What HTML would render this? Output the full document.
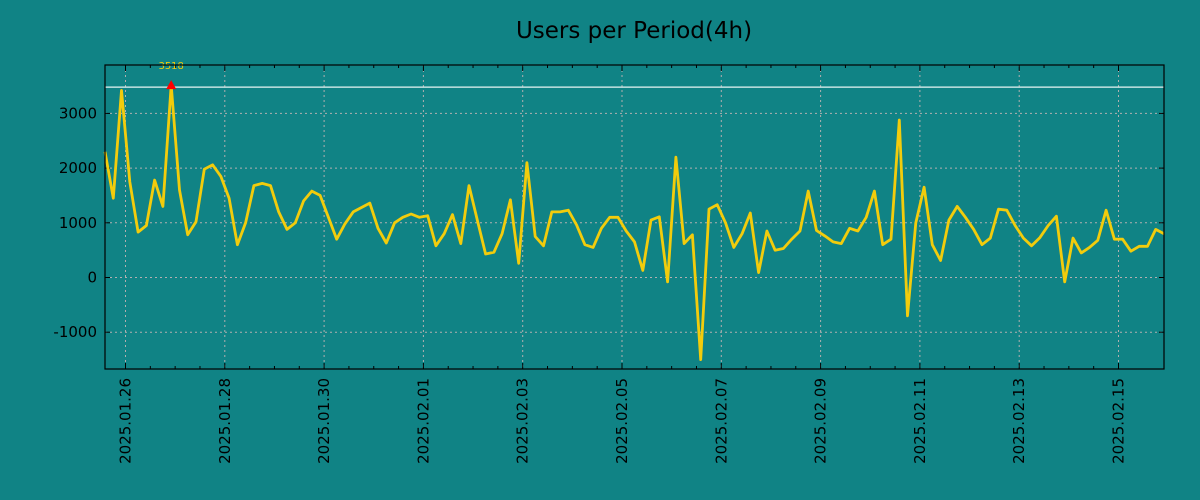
<!DOCTYPE html>
<html><head><meta charset="utf-8"><style>
html,body{margin:0;padding:0;background:#108385;}
svg{display:block;font-family:"Liberation Sans","DejaVu Sans",sans-serif;}
</style></head><body>
<svg id="chart" width="1200" height="500" viewBox="0 0 1200 500">
<rect x="0" y="0" width="1200" height="500" fill="#108385"/>
<text x="634" y="38" text-anchor="middle" font-size="23" fill="#000" font-family="DejaVu Sans, sans-serif">Users per Period(4h)</text>
<g id="grid"></g>
<g id="axes"></g>
<g id="series"></g>
<rect x="105" y="65" width="1059" height="304" fill="none" stroke="#000" stroke-width="1.2"/>
</svg>
<script>
const values = [2300,1450,3420,1750,830,950,1780,1300,3518,1600,780,1020,1980,2060,1850,1450,600,1000,1680,1720,1680,1200,880,1000,1400,1580,1500,1100,700,980,1200,1280,1360,900,630,1000,1100,1160,1100,1130,580,800,1150,620,1680,1050,430,460,800,1420,260,2100,750,580,1200,1200,1230,960,600,550,900,1100,1100,850,650,130,1050,1110,-80,2200,620,780,-1500,1250,1330,1000,550,800,1180,90,850,500,530,700,850,1580,860,760,650,620,900,850,1100,1580,600,700,2880,-700,1000,1650,600,310,1050,1300,1100,880,600,720,1250,1230,950,720,580,730,950,1120,-80,720,450,550,680,1230,700,700,480,570,570,880,800];
const yTicks = [-1000,0,1000,2000,3000];
const xTickLabels = ["2025.01.26","2025.01.28","2025.01.30","2025.02.01","2025.02.03","2025.02.05","2025.02.07","2025.02.09","2025.02.11","2025.02.13","2025.02.15"];
const refLine = [3480];

const NS="http://www.w3.org/2000/svg";
const L=105,R=1164,T=65,B=369;
const yScale=v=>277.5-v*0.0547;
const xScale=i=>L+i*(R-L)/(values.length-1);
// day axis: first label day (index 0 of labels) at x=125.5, each day 49.65 px
const dayX=d=>125.5+d*49.65;
function mk(tag,attrs,parent){const e=document.createElementNS(NS,tag);for(const k in attrs)e.setAttribute(k,attrs[k]);parent.appendChild(e);return e;}
const grid=document.getElementById('grid'),axes=document.getElementById('axes'),series=document.getElementById('series');

yTicks.forEach(v=>{
  const y=yScale(v);
  const g=mk('line',{x1:L,x2:R,y1:y,y2:y,stroke:'#b0b0b0','stroke-dasharray':'2,3','stroke-width':1},grid);
  
  
  const t1=mk('line',{x1:L,x2:L+5,y1:y,y2:y,stroke:'#000'},axes);
  
  
  const t2=mk('line',{x1:R-5,x2:R,y1:y,y2:y,stroke:'#000'},axes);
  
  
  const tx=mk('text',{x:97,y:y+5,'text-anchor':'end','font-size':15,fill:'#000','font-family':'DejaVu Sans, sans-serif'},axes);
  tx.textContent=v;
  
  
});
for(let h=-1;h<=40;h++){
  const x=dayX(h/2);
  if(x<L||x>R)continue;
  const major=h%4===0;
  const len=major?6:3;
  const a=mk('line',{x1:x,x2:x,y1:B,y2:B-len,stroke:'#000'},axes);
  
  
  const b=mk('line',{x1:x,x2:x,y1:T,y2:T+len,stroke:'#000'},axes);
  
  
}
xTickLabels.forEach((lab,k)=>{
  const x=dayX(k*2);
  const g=mk('line',{x1:x,x2:x,y1:T,y2:B,stroke:'#b0b0b0','stroke-dasharray':'2,3','stroke-width':1},grid);
  
  
  const t=mk('text',{x:0,y:0,'text-anchor':'end','font-size':15,fill:'#000','font-family':'DejaVu Sans, sans-serif',transform:`translate(${x+5},378) rotate(-90)`},axes);
  t.textContent=lab;
  
  
});
refLine.forEach(v=>{
  const l=mk('line',{x1:L,x2:R,y1:yScale(v),y2:yScale(v),stroke:'#e8f4f4','stroke-width':1.2},series);
  
  
});
const pts=values.map((v,i)=>xScale(i).toFixed(1)+','+yScale(v).toFixed(1)).join(' ');
const pl=mk('polyline',{points:pts,fill:'none',stroke:'#f2cc0c','stroke-width':2.8,'stroke-linejoin':'round'},series);


let mi=0;values.forEach((v,i)=>{if(v>values[mi])mi=i;});
const mx=xScale(mi),my=yScale(values[mi]);
const tri=mk('polygon',{points:`${mx-5},${my+4} ${mx+5},${my+4} ${mx},${my-5}`,fill:'#ff0000'},series);


const ml=mk('text',{x:mx,y:my-16,'text-anchor':'middle','font-size':10,fill:'#f2cc0c','font-family':'DejaVu Sans, sans-serif'},series);
ml.textContent=values[mi];


</script>
</body></html>
